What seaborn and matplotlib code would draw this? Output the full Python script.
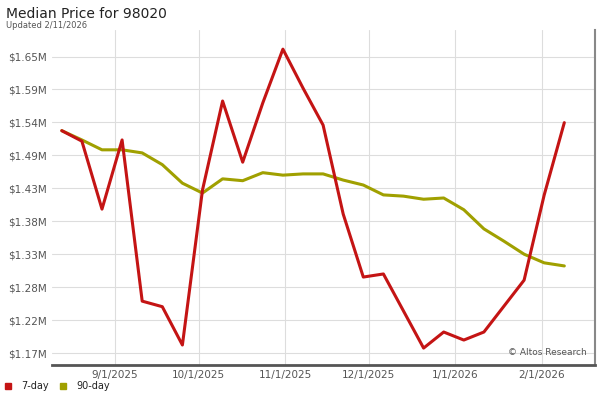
import matplotlib
matplotlib.use("Agg")
import matplotlib.pyplot as plt
import seaborn as sns
import pandas as pd
import numpy as np

dates = pd.date_range("2025-08-13", "2026-02-09", periods=26)
day7 = [1.530,1.513,1.403,1.515,1.254,1.245,1.183,1.434,1.578,1.479,1.575,1.662,1.599,1.539,
        1.395,1.293,1.298,1.238,1.178,1.204,1.191,1.204,1.246,1.288,1.426,1.543]
day90 = [1.530,1.515,1.499,1.499,1.494,1.475,1.445,1.429,1.452,1.449,1.462,1.458,1.460,1.460,
         1.450,1.442,1.426,1.424,1.419,1.421,1.402,1.371,1.351,1.330,1.316,1.311]
yticklabels = ["$1.17M","$1.22M","$1.28M","$1.33M","$1.38M","$1.43M","$1.49M","$1.54M","$1.59M","$1.65M"]
xticks = ["2025-09-01","2025-10-01","2025-11-01","2025-12-01","2026-01-01","2026-02-01"]
xticklabels = ["9/1/2025","10/1/2025","11/1/2025","12/1/2025","1/1/2026","2/1/2026"]

sns.set_style("white")
plt.rcParams['font.family'] = ['DejaVu Sans']
fig = plt.figure(figsize=(6, 4), dpi=100)
ax = fig.add_axes([0.0867, 0.0875, 0.905, 0.8375])
df = pd.DataFrame({"date": dates, "7-day": day7, "90-day": day90})
sns.lineplot(data=df, x="date", y="90-day", color="#a0a000", lw=2.2, ax=ax, legend=False)
sns.lineplot(data=df, x="date", y="7-day", color="#c41414", lw=2.2, ax=ax, legend=False)

ax.set_xlim(pd.Timestamp("2025-08-09 12:00"), pd.Timestamp("2026-02-20"))
ax.set_ylim(1.1506, 1.693)
ax.set_yticks(np.linspace(1.17, 1.65, 10))
ax.set_yticklabels(yticklabels)
ax.set_xticks(pd.to_datetime(xticks))
ax.set_xticklabels(xticklabels)
ax.tick_params(labelsize=7.5, colors="#555555", length=0)
ax.set_xlabel(""); ax.set_ylabel("")
ax.grid(True, color="#dddddd", lw=0.8)
for s in ["top", "left"]:
    ax.spines[s].set_visible(False)
ax.spines["bottom"].set_color("#555555"); ax.spines["bottom"].set_linewidth(2)
ax.spines["right"].set_color("#888888"); ax.spines["right"].set_linewidth(1.5)

fig.text(0.01, 0.965, "Median Price for 98020", fontsize=10, color="#222222", va="center")
fig.text(0.01, 0.937, "Updated 2/11/2026", fontsize=6, color="#555555", va="center")
ax.text(0.985, 0.03, "© Altos Research", transform=ax.transAxes, ha="right", fontsize=6.5, color="#555555")

fig.patches.append(plt.Rectangle((0.008, 0.027), 0.01, 0.015, color="#c41414", transform=fig.transFigure))
fig.text(0.035, 0.035, "7-day", fontsize=7, color="#222222", va="center")
fig.patches.append(plt.Rectangle((0.1, 0.027), 0.01, 0.015, color="#a0a000", transform=fig.transFigure))
fig.text(0.127, 0.035, "90-day", fontsize=7, color="#222222", va="center")

fig.savefig("out.png", dpi=100)
